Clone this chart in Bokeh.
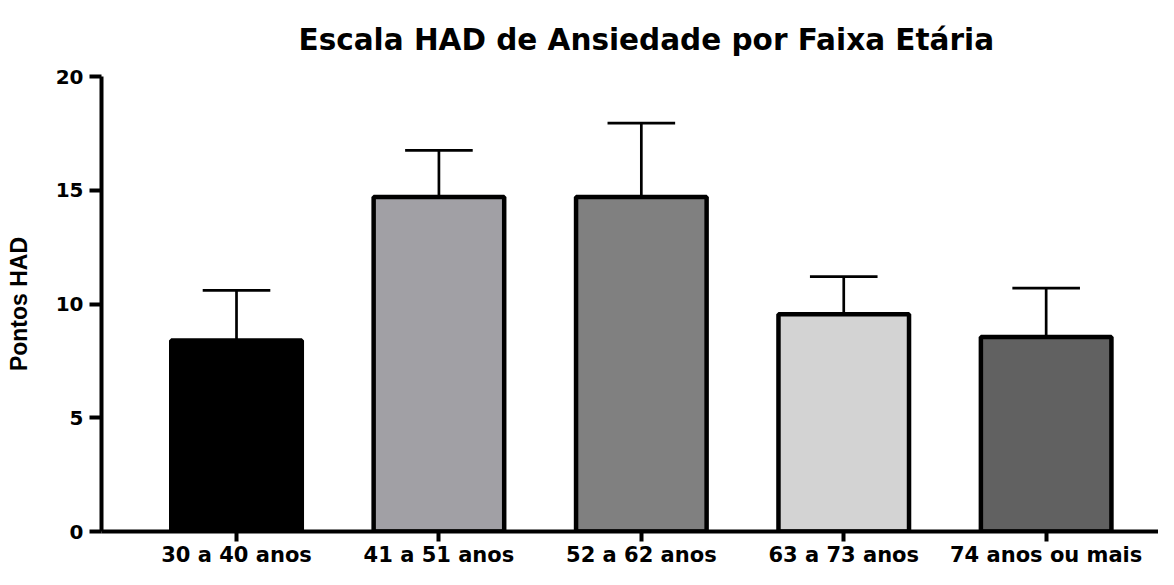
from bokeh.plotting import figure
from bokeh.models import Range1d, FixedTicker, ColumnDataSource
from bokeh.embed import file_html
from bokeh.resources import INLINE

# ---- data ----
categories = ["30 a 40 anos", "41 a 51 anos", "52 a 62 anos", "63 a 73 anos", "74 anos ou mais"]
means = [8.4, 14.7, 14.7, 9.55, 8.55]
sd = [2.2, 2.05, 3.25, 1.65, 2.15]
colors = ["#000000", "#a1a0a5", "#808080", "#d3d3d3", "#616161"]
y_ticks = [0, 5, 10, 15, 20]

title_text = "Escala HAD de Ansiedade por Faixa Etária"
y_label = "Pontos HAD"

# ---- derived ----
xs = list(range(len(categories)))
upper = [m + s for m, s in zip(means, sd)]
BAR_W = 0.645
CAP_HALF = 0.167

src = ColumnDataSource(dict(
    x=xs, top=means, upper=upper, color=colors,
    cap_l=[x - CAP_HALF for x in xs], cap_r=[x + CAP_HALF for x in xs],
))

p = figure(width=1158, height=569,
           x_range=Range1d(-0.667, 4.555), y_range=Range1d(0, 20),
           output_backend="svg", toolbar_location=None,
           min_border_left=101, min_border_right=0,
           min_border_top=74, min_border_bottom=36,
           title=title_text)

p.title.text_font = "DejaVu Sans"
p.title.text_font_size = "29.5px"
p.title.text_font_style = "bold"
p.title.text_color = "black"
p.title.align = "left"
p.title.offset = 197
p.title.standoff = 40

p.outline_line_color = None
p.xgrid.visible = False
p.ygrid.visible = False
p.background_fill_color = "white"
p.border_fill_color = "white"

# error bars (behind bars)
p.segment(x0="x", y0="top", x1="x", y1="upper", source=src,
          line_color="black", line_width=2.7)
p.segment(x0="cap_l", y0="upper", x1="cap_r", y1="upper", source=src,
          line_color="black", line_width=2.7)

# bars
p.vbar(x="x", top="top", bottom=0, width=BAR_W, source=src,
       fill_color="color", line_color="black", line_width=4.5)

# x axis
xa = p.xaxis[0]
xa.ticker = FixedTicker(ticks=xs)
xa.major_label_overrides = {i: c for i, c in zip(xs, categories)}
xa.axis_line_width = 4
xa.axis_line_color = "black"
xa.major_tick_line_width = 4
xa.major_tick_line_color = "black"
xa.major_tick_out = 10
xa.major_tick_in = 0
xa.minor_tick_line_color = None
xa.major_label_text_font = "DejaVu Sans"
xa.major_label_text_font_size = "21px"
xa.major_label_text_font_style = "bold"
xa.major_label_text_color = "black"
xa.major_label_standoff = 1

# y axis
ya = p.yaxis[0]
ya.ticker = FixedTicker(ticks=y_ticks)
ya.axis_line_width = 4
ya.axis_line_color = "black"
ya.major_tick_line_width = 4
ya.major_tick_line_color = "black"
ya.major_tick_out = 12
ya.major_tick_in = 0
ya.minor_tick_line_color = None
ya.major_label_text_font = "DejaVu Sans"
ya.major_label_text_font_size = "20px"
ya.major_label_text_font_style = "bold"
ya.major_label_text_color = "black"
ya.major_label_standoff = 6
ya.axis_label = y_label
ya.axis_label_text_font = "Liberation Sans"
ya.axis_label_text_font_size = "23px"
ya.axis_label_text_font_style = "bold"
ya.axis_label_text_color = "black"
ya.axis_label_standoff = 21

open("out.html", "w").write(file_html(p, INLINE))
